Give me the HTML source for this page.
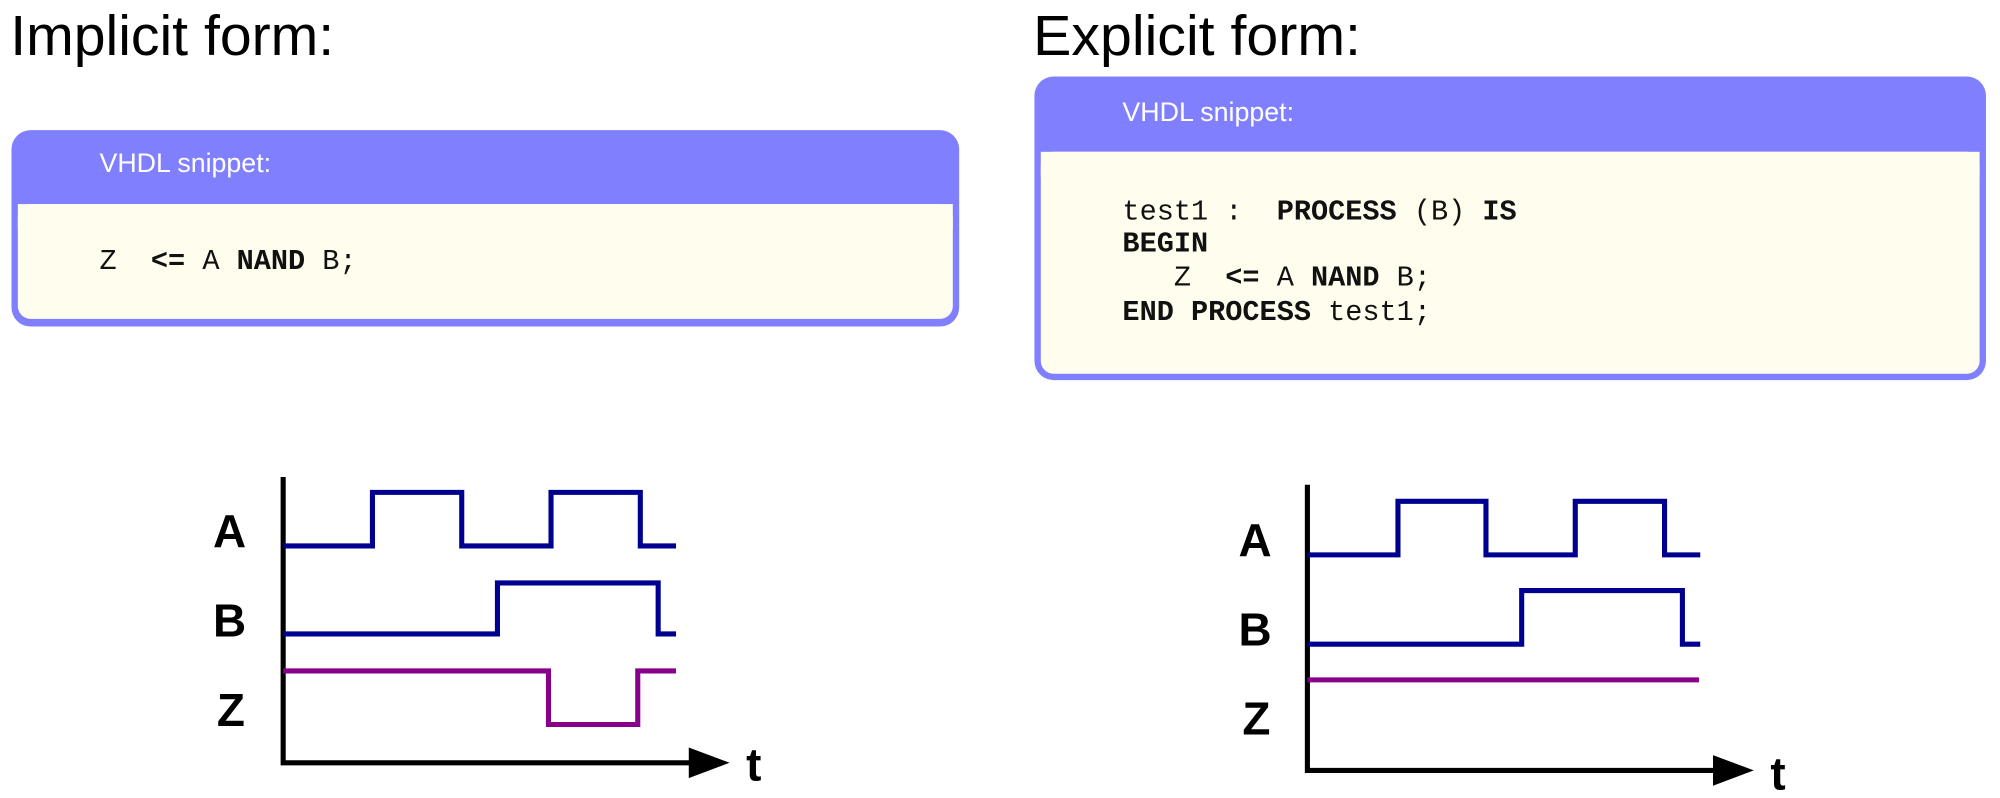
<!DOCTYPE html>
<html><head><meta charset="utf-8"><style>
html,body{margin:0;padding:0;background:#fff;}
svg{display:block;}
.t{font-family:"Liberation Sans",sans-serif;}
.m{font-family:"Liberation Mono",monospace;font-size:22.4px;fill:#111;}
.b{font-weight:bold;}
</style></head><body>
<svg width="2000" height="798" viewBox="0 0 1568 625.6" xmlns="http://www.w3.org/2000/svg">
<text x="8" y="43" class="t" font-size="44" textLength="254" lengthAdjust="spacingAndGlyphs">Implicit form:</text>
<text x="810" y="43" class="t" font-size="44" textLength="257" lengthAdjust="spacingAndGlyphs">Explicit form:</text>

<!-- left box -->
<rect x="9" y="102" width="743" height="154" rx="15" fill="#8080ff"/>
<rect x="14" y="160" width="733" height="90" rx="10" fill="#fffeee"/>
<rect x="14" y="160" width="733" height="20" fill="#fffeee"/>
<text x="78" y="135" class="t" font-size="21" fill="#fff">VHDL snippet:</text>
<text x="78" y="211" class="m" xml:space="preserve">Z  <tspan class="b">&lt;=</tspan> A <tspan class="b">NAND</tspan> B;</text>

<!-- right box -->
<rect x="811" y="60" width="746" height="238" rx="15" fill="#8080ff"/>
<rect x="816" y="119" width="736" height="174" rx="10" fill="#fffeee"/>
<rect x="816" y="119" width="736" height="20" fill="#fffeee"/>
<text x="880" y="95" class="t" font-size="21" fill="#fff">VHDL snippet:</text>
<text x="880" y="172" class="m" xml:space="preserve">test1 :  <tspan class="b">PROCESS</tspan> (B) <tspan class="b">IS</tspan></text>
<text x="880" y="197" class="m b">BEGIN</text>
<text x="880" y="224" class="m" xml:space="preserve">   Z  <tspan class="b">&lt;=</tspan> A <tspan class="b">NAND</tspan> B;</text>
<text x="880" y="251" class="m" xml:space="preserve"><tspan class="b">END PROCESS</tspan> test1;</text>

<g font-family="Liberation Sans,sans-serif" font-weight="bold" font-size="36" fill="#000">
<text x="167" y="429">A</text><text x="167" y="499">B</text><text x="170" y="569">Z</text>
<text x="585" y="612">t</text>
<text x="971" y="436">A</text><text x="971" y="506">B</text><text x="974" y="576">Z</text>
<text x="1388" y="619">t</text>
</g>
<g fill="none" stroke-width="4">
<path d="M222,374 V598 H545" stroke="#000"/>
<path d="M222,428 H292 V386 H362 V428 H432 V386 H502 V428 H530" stroke="#000090"/>
<path d="M222,497 H390 V457 H516 V497 H530" stroke="#000090"/>
<path d="M222,526 H430 V568 H500 V526 H530" stroke="#880088"/>
<path d="M1025,380 V604 H1348" stroke="#000"/>
<path d="M1025,435 H1096 V393 H1165 V435 H1235 V393 H1305 V435 H1333" stroke="#000090"/>
<path d="M1025,505 H1193 V463 H1319 V505 H1333" stroke="#000090"/>
<path d="M1025,533 H1332" stroke="#880088"/>
</g>
<polygon points="540,586 572,598 540,610" fill="#000"/>
<polygon points="1343,592 1375,604 1343,616" fill="#000"/>
</svg>
</body></html>
